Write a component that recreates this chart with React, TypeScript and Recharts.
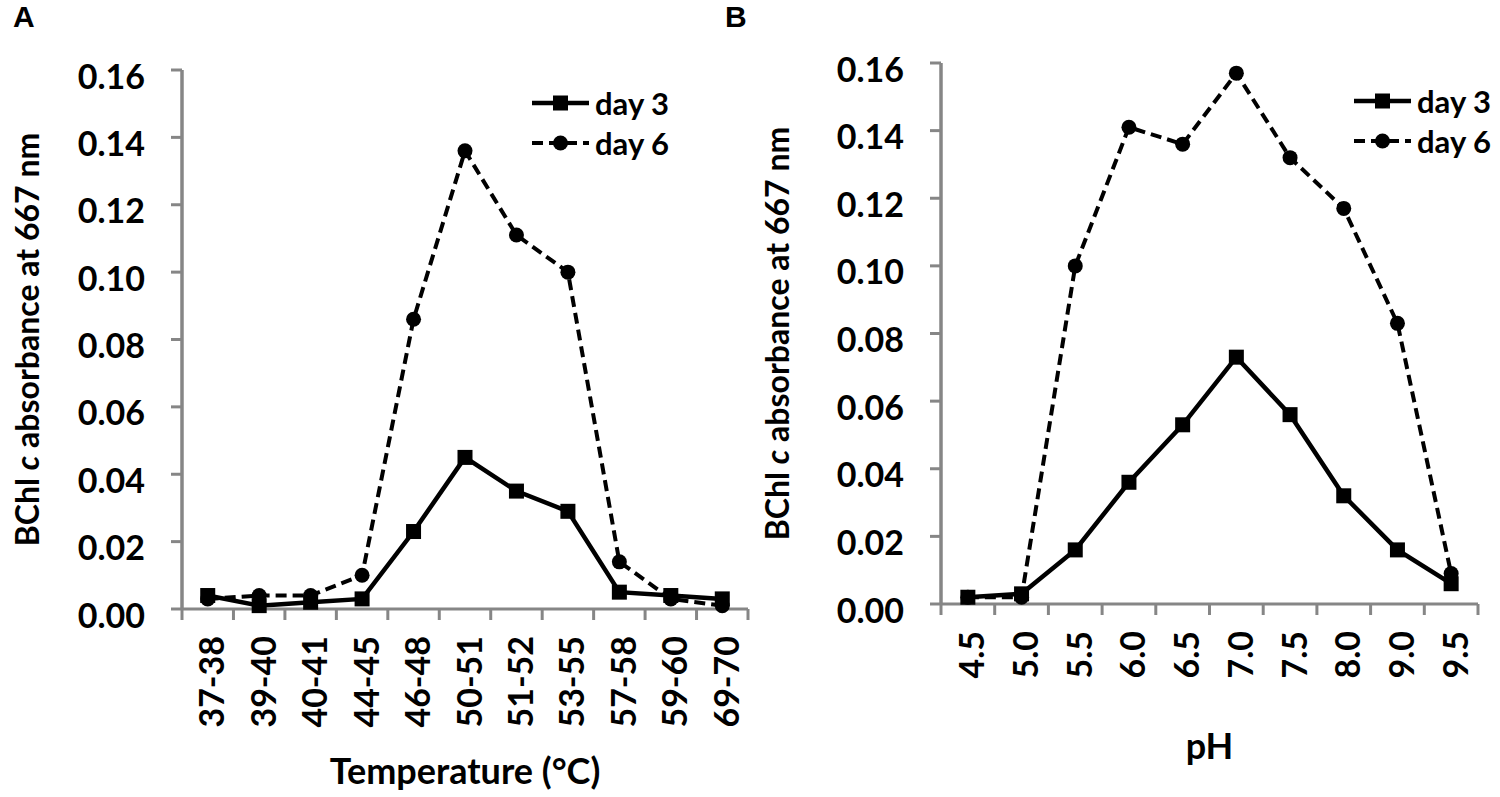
import React from "react";
import { LineChart, Line, XAxis, YAxis, Legend } from "recharts";

// values
const tempCats = ["37-38", "39-40", "40-41", "44-45", "46-48", "50-51", "51-52", "53-55", "57-58", "59-60", "69-70"];
const tempDay3 = [0.004, 0.001, 0.002, 0.003, 0.023, 0.045, 0.035, 0.029, 0.005, 0.004, 0.003];
const tempDay6 = [0.003, 0.004, 0.004, 0.010, 0.086, 0.136, 0.111, 0.100, 0.014, 0.003, 0.001];

const phCats = ["4.5", "5.0", "5.5", "6.0", "6.5", "7.0", "7.5", "8.0", "9.0", "9.5"];
const phDay3 = [0.002, 0.003, 0.016, 0.036, 0.053, 0.073, 0.056, 0.032, 0.016, 0.006];
const phDay6 = [0.002, 0.002, 0.100, 0.141, 0.136, 0.157, 0.132, 0.117, 0.083, 0.009];

const yTicks = [0, 0.02, 0.04, 0.06, 0.08, 0.1, 0.12, 0.14, 0.16];

const FONT = "Lato, 'Open Sans', sans-serif";
const AXIS = "#868686";
const DASH = "11 6";

function XTick({ x, y, payload, cats }: any) {
  const v = payload.value;
  if (Number.isInteger(v)) {
    return <line x1={x} x2={x} y1={y} y2={y + 11} stroke={AXIS} strokeWidth={3} />;
  }
  const label = cats[Math.floor(v)];
  const tx = x + 3;
  const ty = y + 27;
  return (
    <text
      x={tx}
      y={ty}
      transform={`rotate(-90 ${tx} ${ty})`}
      textAnchor="end"
      dominantBaseline="central"
      fontFamily={FONT}
      fontWeight={700}
      fontSize={34}
      fill="#000"
    >
      {label}
    </text>
  );
}

function YTick({ x, y, payload }: any) {
  return (
    <text x={x} y={y + 5} textAnchor="end" dominantBaseline="central" fontFamily={FONT} fontWeight={700} fontSize={34} fill="#000">
      {payload.value.toFixed(2)}
    </text>
  );
}

function YTitle({ viewBox }: any) {
  const vb = viewBox || { x: 0, y: 70, height: 538 };
  const cx = vb.x + 26;
  const cy = vb.y + vb.height / 2;
  return (
    <text
      x={cx}
      y={cy}
      transform={`rotate(-90 ${cx} ${cy})`}
      textAnchor="middle"
      dominantBaseline="central"
      fontFamily={FONT}
      fontWeight={700}
      fontSize={32}
      fill="#000"
    >
      BChl <tspan fontStyle="italic">c</tspan> absorbance at 667 nm
    </text>
  );
}

function SquareDot({ cx, cy }: any) {
  if (cx == null || cy == null) return null;
  return <rect x={cx - 7.5} y={cy - 7.5} width={15} height={15} fill="#000" />;
}

function CircleDot({ cx, cy }: any) {
  if (cx == null || cy == null) return null;
  return <circle cx={cx} cy={cy} r={7.5} fill="#000" />;
}

function LegendBox({ payload }: any) {
  return (
    <div style={{ fontFamily: FONT, fontWeight: 700, fontSize: 31, lineHeight: 1 }}>
      {(payload || []).map((p: any, i: number) => (
        <div key={p.value} style={{ display: "flex", alignItems: "center", height: 40 }}>
          <svg width={57} height={20}>
            {i === 0 ? (
              <>
                <line x1={0} x2={57} y1={10} y2={10} stroke="#000" strokeWidth={4.5} />
                <rect x={21} y={2.5} width={15} height={15} fill="#000" />
              </>
            ) : (
              <>
                <line x1={0} x2={57} y1={10} y2={10} stroke="#000" strokeWidth={4} strokeDasharray={DASH} />
                <circle cx={28.5} cy={10} r={7.5} fill="#000" />
              </>
            )}
          </svg>
          <span style={{ marginLeft: 6 }}>{p.value}</span>
        </div>
      ))}
    </div>
  );
}

type PanelProps = {
  cats: string[];
  day3: number[];
  day6: number[];
  top: number;
  right: number;
  yWidth: number;
  xHeight: number;
  xTitle: string;
  xTitleOffset: number;
  legendLeft: number;
  legendTop: number;
};

function Panel({ cats, day3, day6, top, right, yWidth, xHeight, xTitle, xTitleOffset, legendLeft, legendTop }: PanelProps) {
  const rows = cats.map((c, i) => ({ cat: c, pos: i + 0.5, day3: day3[i], day6: day6[i] }));
  const xTicks = Array.from({ length: cats.length * 2 + 1 }, (_, k) => k / 2);
  return (
    <LineChart width={750} height={797} data={rows} margin={{ top, right, bottom: 0, left: 0 }}>
      <XAxis
        dataKey="pos"
        type="number"
        domain={[0, cats.length]}
        ticks={xTicks}
        interval={0}
        height={xHeight}
        tickLine={false}
        tickSize={0}
        tickMargin={0}
        axisLine={{ stroke: AXIS, strokeWidth: 3 }}
        tick={<XTick cats={cats} />}
        label={{
          value: xTitle,
          position: "insideBottom",
          offset: xTitleOffset,
          fontFamily: FONT,
          fontWeight: 700,
          fontSize: 36,
          fill: "#000",
        }}
      />
      <YAxis
        domain={[0, 0.16]}
        ticks={yTicks}
        interval={0}
        width={yWidth}
        tickSize={11}
        tickMargin={26}
        tickLine={{ stroke: AXIS, strokeWidth: 3 }}
        axisLine={{ stroke: AXIS, strokeWidth: 3.5 }}
        tick={<YTick />}
        label={<YTitle />}
      />
      <Legend
        layout="vertical"
        align="center"
        verticalAlign="middle"
        wrapperStyle={{ left: legendLeft, top: legendTop, width: 170 }}
        content={<LegendBox />}
      />
      <Line dataKey="day3" name="day 3" stroke="#000" strokeWidth={4.5} dot={<SquareDot />} activeDot={false} isAnimationActive={false} />
      <Line
        dataKey="day6"
        name="day 6"
        stroke="#000"
        strokeWidth={4}
        strokeDasharray={DASH}
        dot={<CircleDot />}
        activeDot={false}
        isAnimationActive={false}
      />
    </LineChart>
  );
}

const letter: React.CSSProperties = {
  position: "absolute",
  top: 2,
  fontFamily: "'Liberation Sans', Arial, sans-serif",
  fontWeight: 700,
  fontSize: 30,
  lineHeight: 1,
};

export default function App() {
  return (
    <div style={{ position: "relative", width: 1500, height: 797, background: "#fff", overflow: "hidden" }}>
      <style>{"body{margin:0}"}</style>
      <div style={{ position: "absolute", left: 0, top: 0 }}>
        <Panel
          cats={tempCats}
          day3={tempDay3}
          day6={tempDay6}
          top={70}
          right={2}
          yWidth={182}
          xHeight={188}
          xTitle="Temperature (°C)"
          xTitleOffset={13}
          legendLeft={532}
          legendTop={83}
        />
      </div>
      <div style={{ position: "absolute", left: 750, top: 0 }}>
        <Panel
          cats={phCats}
          day3={phDay3}
          day6={phDay6}
          top={63}
          right={22}
          yWidth={191}
          xHeight={193}
          xTitle="pH"
          xTitleOffset={38}
          legendLeft={604}
          legendTop={81}
        />
      </div>
      <div style={{ ...letter, left: 13 }}>A</div>
      <div style={{ ...letter, left: 725 }}>B</div>
    </div>
  );
}
